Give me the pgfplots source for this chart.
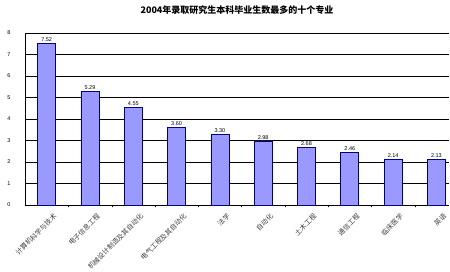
\documentclass[border=0pt]{standalone}
\usepackage{pgfplots}
\pgfplotsset{compat=1.18}
\usepackage{fontspec}
\setmainfont{Liberation Sans}
\newfontfamily\cjk{Noto Sans CJK SC}
\definecolor{barfill}{HTML}{9999FF}
\definecolor{barline}{HTML}{000080}
\begin{document}
\begin{tikzpicture}[x=1pt,y=1pt]
\useasboundingbox (-25,-67) rectangle (425,205);
\begin{axis}[
  at={(0,0)}, anchor=south west,
  scale only axis, width=424pt, height=172pt,
  xmin=-0.5, xmax=9.29, ymin=0, ymax=8,
  axis x line*=bottom, axis y line*=left,
  axis line style={black,-},
  ytick={0,...,8},
  ymajorgrids, grid style={black, line width=0.6pt},
  xtick={0,...,9},
  xticklabels={计算机科学与技术,电子信息工程,机械设计制造及其自动化,电气工程及其自动化,法学,自动化,土木工程,通信工程,临床医学,英语},
  x tick label style={font=\cjk\fontsize{6.8}{7}\selectfont, rotate=45, anchor=north east, inner sep=1pt, yshift=-9pt, color=black!75},
  y tick label style={font=\fontsize{5.5}{6}\selectfont},
  major x tick style={draw=none},
  minor xtick={0.5,1.5,...,8.5},
  minor tick length=2.5pt, tick align=outside,
  major tick length=0pt,
  minor x tick style={black},
  /pgf/number format/assume math mode=true,
  yticklabel style={xshift=-11pt},
  ybar, bar width=18pt,
  nodes near coords,
  nodes near coords style={font=\fontsize{5.5}{6}\selectfont, /pgf/number format/fixed, /pgf/number format/precision=2, /pgf/number format/fixed zerofill, inner sep=1.5pt},
  clip=false,
]
\addplot[fill=barfill, draw=barline, line width=0.7pt] coordinates {
(0,7.52) (1,5.29) (2,4.55) (3,3.60) (4,3.30) (5,2.98) (6,2.68) (7,2.46) (8,2.14) (9,2.13)
};
\end{axis}
\node[font=\cjk\bfseries\fontsize{9}{10}\selectfont] at (212,195) {2004年录取研究生本科毕业生数最多的十个专业};
\end{tikzpicture}
\end{document}
